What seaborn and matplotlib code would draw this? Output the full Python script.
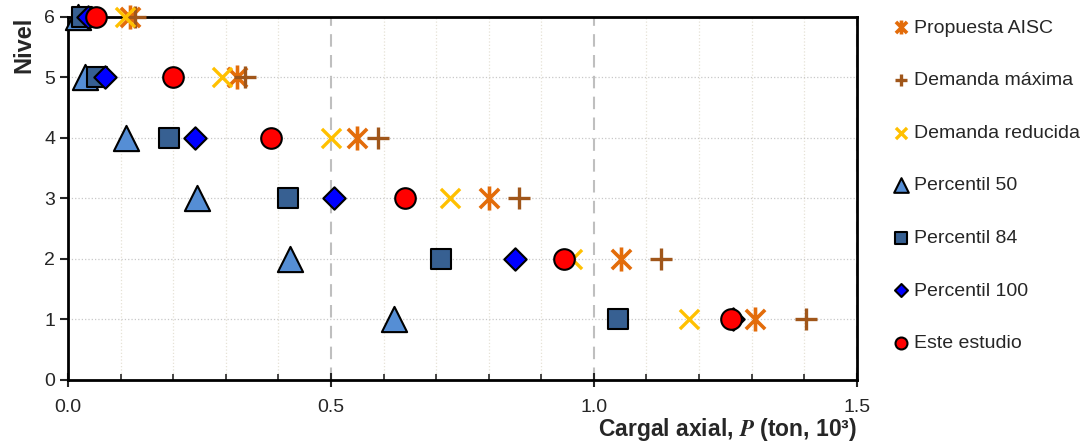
import numpy as np
import pandas as pd
import matplotlib
matplotlib.use("Agg")
import matplotlib.pyplot as plt
from matplotlib.path import Path
from matplotlib.ticker import MultipleLocator, FormatStrFormatter
import seaborn as sns

# datos (carga axial en ton x 10^3 por nivel)
niveles = [1, 2, 3, 4, 5, 6]
propuesta_aisc = [1.306, 1.051, 0.800, 0.549, 0.321, 0.118]
demanda_maxima = [1.403, 1.127, 0.857, 0.589, 0.337, 0.127]
demanda_reducida = [1.181, 0.958, 0.726, 0.500, 0.293, 0.108]
percentil_50 = [0.620, 0.422, 0.245, 0.110, 0.032, 0.019]
percentil_84 = [1.046, 0.709, 0.418, 0.192, 0.055, 0.027]
percentil_100 = [1.264, 0.850, 0.506, 0.241, 0.070, 0.038]
este_estudio = [1.260, 0.943, 0.641, 0.386, 0.200, 0.053]

sns.set_style("ticks")
plt.rcParams["font.family"] = ["Liberation Sans", "DejaVu Sans"]
plt.rcParams["mathtext.fontset"] = "stix"

# asterisco tipo Excel: linea vertical + X
asterisco = Path([(0, -1), (0, 1), (-0.8, -0.8), (0.8, 0.8), (-0.8, 0.8), (0.8, -0.8)],
                 [Path.MOVETO, Path.LINETO, Path.MOVETO, Path.LINETO, Path.MOVETO, Path.LINETO])

series = [
    ("Propuesta AISC", propuesta_aisc, asterisco, "#E36C0A", None, 300, 2.6),
    ("Demanda máxima", demanda_maxima, "+", "#A0561A", None, 260, 2.4),
    ("Demanda reducida", demanda_reducida, "x", "#FFC000", None, 190, 2.4),
    ("Percentil 50", percentil_50, "^", "#558ED5", "black", 330, 1.5),
    ("Percentil 84", percentil_84, "s", "#376092", "black", 200, 1.5),
    ("Percentil 100", percentil_100, "D", "#0000FF", "black", 130, 1.5),
    ("Este estudio", este_estudio, "o", "#FF0000", "black", 220, 1.5),
]

fig = plt.figure(figsize=(10.83, 4.46), dpi=100)
ax = fig.add_axes([0.063, 0.148, 0.728, 0.814])

for nombre, valores, marcador, color, borde, tam, lw in series:
    df = pd.DataFrame({"P": valores, "Nivel": niveles})
    sns.scatterplot(data=df, x="P", y="Nivel", ax=ax, marker=marcador,
                    s=tam, color=color, edgecolor=borde if borde else color,
                    linewidth=lw, label=nombre, zorder=3, clip_on=False)

ax.set_xlim(0, 1.5)
ax.set_ylim(0, 6)
ax.xaxis.set_major_locator(MultipleLocator(0.5))
ax.xaxis.set_minor_locator(MultipleLocator(0.1))
ax.xaxis.set_major_formatter(FormatStrFormatter("%.1f"))
ax.yaxis.set_major_locator(MultipleLocator(1))

ax.grid(axis="x", which="major", color="#BFBFBF", linestyle=(0, (6, 4)), linewidth=1.5, zorder=0)
ax.grid(axis="x", which="minor", color="#E6E2D6", linestyle=":", linewidth=0.9, zorder=0)
ax.grid(axis="y", which="major", color="#C8C8C8", linestyle=":", linewidth=0.9, zorder=0)
ax.set_axisbelow(True)

for s in ax.spines.values():
    s.set_visible(True)
    s.set_color("black")
    s.set_linewidth(2)

ax.tick_params(axis="x", which="major", direction="inout", length=10, width=1.5, labelsize=14, pad=9)
ax.tick_params(axis="x", which="minor", direction="in", length=4, width=1.2)
ax.tick_params(axis="y", which="major", direction="out", length=6, width=1.5, labelsize=14)

ax.set_xlabel("Cargal axial, $\\mathbfit{P}$ (ton, 10³)", fontsize=16.5, fontweight="bold", loc="right", labelpad=0)
ax.set_ylabel("Nivel", fontsize=17, fontweight="bold", loc="top", labelpad=6)

h, l = ax.get_legend_handles_labels()
ax.get_legend().remove()
fig.legend(h, l, loc="upper left", bbox_to_anchor=(0.815, 0.975), frameon=False,
           fontsize=14, labelspacing=1.8, handletextpad=0.1, handlelength=1.1,
           markerscale=0.58, borderaxespad=0)

fig.savefig("out.png", dpi=100)
